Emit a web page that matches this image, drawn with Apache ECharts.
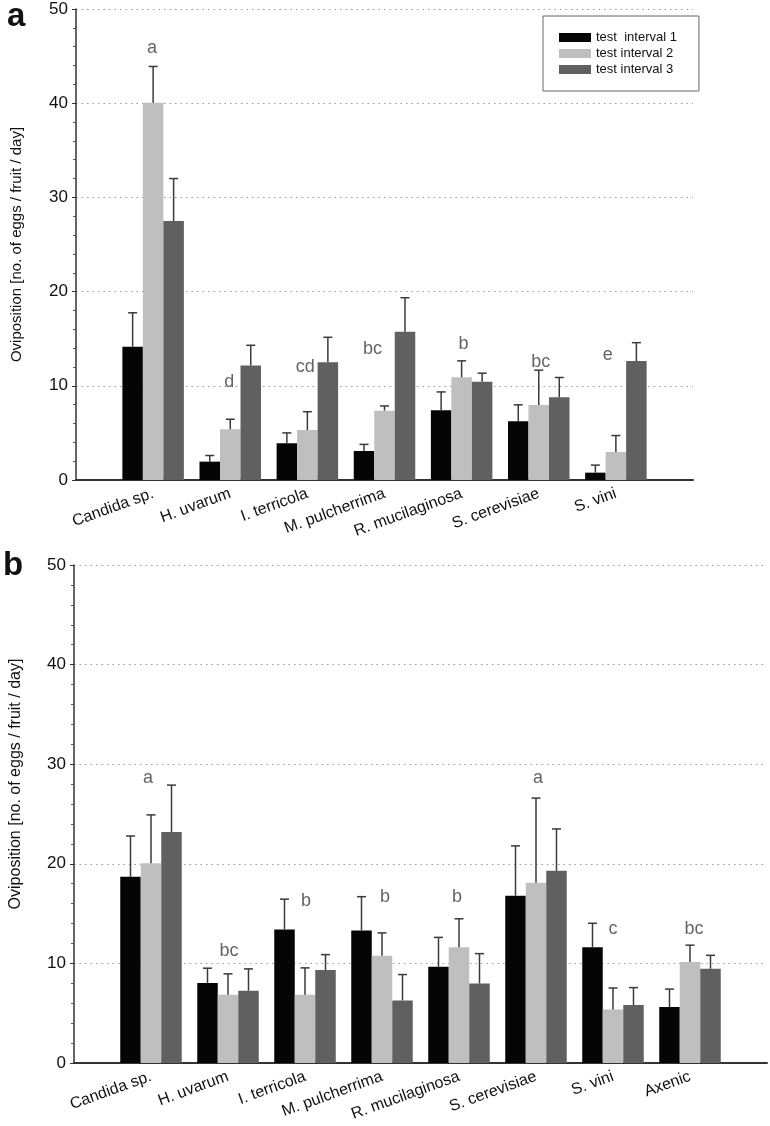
<!DOCTYPE html>
<html>
<head>
<meta charset="utf-8">
<script src="https://cdn.jsdelivr.net/npm/echarts@6/dist/echarts.min.js"></script>
<style>
html,body{margin:0;padding:0;background:#fff;}
#chart{width:770px;height:1126px;}
</style>
</head>
<body>
<div id="chart"></div>
<script>
// ---------- Data ----------
var seriesNames = ['test  interval 1', 'test interval 2', 'test interval 3'];

// Panel a
var catsA = ['Candida sp.', 'H. uvarum', 'I. terricola', 'M. pulcherrima', 'R. mucilaginosa', 'S. cerevisiae', 'S. vini'];
var a1 = [14.15, 1.95, 3.9, 3.08, 7.4, 6.23, 0.78];
var a1se = [3.6, 0.65, 1.1, 0.7, 1.95, 1.75, 0.8];
var a2 = [40.05, 5.4, 5.3, 7.36, 10.9, 7.96, 2.97];
var a2se = [3.85, 1.05, 1.95, 0.5, 1.75, 3.7, 1.75];
var a3 = [27.5, 12.15, 12.5, 15.75, 10.44, 8.78, 12.63];
var a3se = [4.5, 2.15, 2.65, 3.6, 0.9, 2.1, 1.95];
var lettersA = ['a', 'd', 'cd', 'bc', 'b', 'bc', 'e'];
var letterYA = [45.9, 10.4, 12.0, 13.9, 14.4, 12.5, 13.3];

// Panel b
var catsB = ['Candida sp.', 'H. uvarum', 'I. terricola', 'M. pulcherrima', 'R. mucilaginosa', 'S. cerevisiae', 'S. vini', 'Axenic'];
var b1 = [18.69, 8.02, 13.4, 13.3, 9.66, 16.8, 11.63, 5.62];
var b1se = [4.1, 1.5, 3.05, 3.4, 2.95, 5.0, 2.4, 1.8];
var b2 = [20.06, 6.85, 6.85, 10.76, 11.63, 18.1, 5.38, 10.13];
var b2se = [4.85, 2.1, 2.7, 2.3, 2.85, 8.5, 2.15, 1.7];
var b3 = [23.2, 7.25, 9.33, 6.28, 7.98, 19.3, 5.82, 9.46];
var b3se = [4.7, 2.2, 1.55, 2.6, 3.0, 4.2, 1.75, 1.35];
var lettersB = ['a', 'bc', 'b', 'b', 'b', 'a', 'c', 'bc'];
var letterYB = [28.6, 11.26, 16.3, 16.7, 16.7, 28.6, 13.5, 13.5];

var yTicks = [0, 10, 20, 30, 40, 50];

// ---------- Styles ----------
var COLORS = ['#050505', '#bfbfbf', '#606060'];
var BAR_W = 20.5;
var FONT = 'Liberation Sans, Arial, Helvetica, sans-serif';
var letterDxA = [-1, -1, -2, -12, 2, 2, -8];
var letterDxB = [-3, 1, 1, 3, -2, 2, 0, 4];

function pad(arr, fill) { return [fill].concat(arr, [fill]); }

function barSeries(name, values, gi) {
  return {
    name: name, type: 'bar', xAxisIndex: gi, yAxisIndex: gi,
    data: pad(values, null), barWidth: BAR_W, barGap: '0%',
    itemStyle: { color: COLORS[seriesNames.indexOf(name)] },
    z: 2
  };
}

function errSeries(values, ses, k, gi) {
  var data = values.map(function (v, i) { return [i + 1, v, ses[i]]; });
  return {
    type: 'custom', xAxisIndex: gi, yAxisIndex: gi, z: 3, silent: true,
    data: data,
    renderItem: function (params, api) {
      var idx = api.value(0), m = api.value(1), s = api.value(2);
      var base = api.coord([idx, m]);
      var top = api.coord([idx, m + s]);
      var x = base[0] + (k - 1) * BAR_W;
      var st = { stroke: '#3a3a3a', lineWidth: 1.5 };
      return {
        type: 'group', children: [
          { type: 'line', shape: { x1: x, y1: base[1], x2: x, y2: top[1] }, style: st },
          { type: 'line', shape: { x1: x - 4.5, y1: top[1], x2: x + 4.5, y2: top[1] }, style: st }
        ]
      };
    }
  };
}

function letterSeries(letters, ys, dx, gi) {
  return {
    type: 'scatter', xAxisIndex: gi, yAxisIndex: gi, symbolSize: 1, z: 4, silent: true,
    itemStyle: { color: 'rgba(0,0,0,0)' },
    data: letters.map(function (l, i) {
      return { value: [i + 1, ys[i]], label: { formatter: l, offset: [dx[i], 0] } };
    }),
    label: { show: true, position: 'inside', color: '#3c3c3c', fontSize: 18, fontFamily: FONT }
  };
}

function xAxis(cats, gi) {
  return {
    type: 'category', gridIndex: gi, data: pad(cats, ''), boundaryGap: false,
    axisLine: { lineStyle: { color: '#333', width: 2 } },
    axisTick: { show: false },
    splitLine: { show: false },
    axisLabel: { interval: 0, rotate: 20, margin: 13, fontSize: 16, color: '#111', fontFamily: FONT }
  };
}

function yAxis(gi, gap, fs, padL) {
  return {
    type: 'value', gridIndex: gi, min: yTicks[0], max: yTicks[yTicks.length - 1], interval: 10,
    name: 'Oviposition [no. of eggs / fruit / day]', nameLocation: 'middle', nameGap: gap,
    nameTextStyle: { fontSize: fs, color: '#111', fontFamily: FONT, padding: [0, 0, 0, padL] },
    axisLine: { show: true, lineStyle: { color: '#333', width: 1.5 } },
    axisTick: { show: true, length: 4, lineStyle: { color: '#333' } },
    minorTick: { show: true, splitNumber: 5, length: 3, lineStyle: { color: '#555' } },
    splitLine: { show: true, lineStyle: { color: '#999', type: [1.5, 4], width: 1.2 } },
    axisLabel: { fontSize: 17, color: '#111', margin: 8, fontFamily: FONT }
  };
}

var chart = echarts.init(document.getElementById('chart'), null, { renderer: 'canvas' });
chart.setOption({
  backgroundColor: '#fff',
  animation: false,
  textStyle: { fontFamily: FONT },
  grid: [
    { left: 76, right: 77, top: 9, bottom: 646 },
    { left: 71, right: 3, top: 565, bottom: 63 }
  ],
  legend: {
    data: seriesNames, orient: 'vertical', left: 543, top: 16,
    itemWidth: 32, itemHeight: 9, itemGap: 3,
    borderColor: '#666', borderWidth: 1, padding: [15, 22, 15, 16],
    textStyle: { fontSize: 13, color: '#111', fontFamily: FONT },
    icon: 'rect', selectedMode: false
  },
  graphic: [
    { type: 'text', x: 7, y: 33, style: { text: 'a', font: 'bold 33px ' + FONT, fill: '#111', verticalAlign: 'bottom' } },
    { type: 'text', x: 3, y: 582, style: { text: 'b', font: 'bold 33px ' + FONT, fill: '#111', verticalAlign: 'bottom' } }
  ],
  xAxis: [xAxis(catsA, 0), xAxis(catsB, 1)],
  yAxis: [yAxis(0, 52, 15, 0), yAxis(1, 50, 16, 60)],
  series: [
    barSeries(seriesNames[0], a1, 0),
    barSeries(seriesNames[1], a2, 0),
    barSeries(seriesNames[2], a3, 0),
    errSeries(a1, a1se, 0, 0), errSeries(a2, a2se, 1, 0), errSeries(a3, a3se, 2, 0),
    letterSeries(lettersA, letterYA, letterDxA, 0),
    barSeries(seriesNames[0], b1, 1),
    barSeries(seriesNames[1], b2, 1),
    barSeries(seriesNames[2], b3, 1),
    errSeries(b1, b1se, 0, 1), errSeries(b2, b2se, 1, 1), errSeries(b3, b3se, 2, 1),
    letterSeries(lettersB, letterYB, letterDxB, 1)
  ]
});
</script>
</body>
</html>
